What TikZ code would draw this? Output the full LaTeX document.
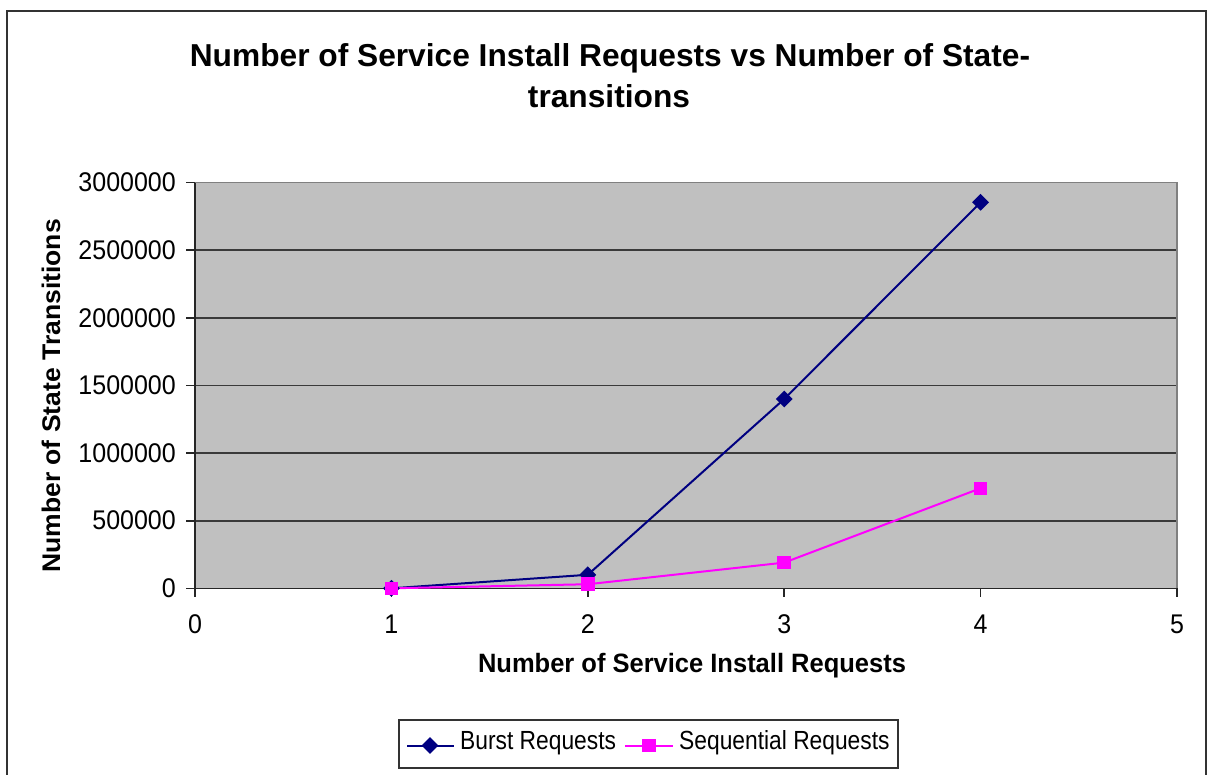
\documentclass[tikz,border=0pt]{standalone}
\usepackage{fontspec}
\setmainfont{Liberation Sans}
\usetikzlibrary{shapes.geometric}
\definecolor{plotgray}{HTML}{C0C0C0}
\definecolor{burstblue}{HTML}{000080}
\definecolor{seqpink}{HTML}{FF00FF}
\definecolor{framegray}{HTML}{333333}
\definecolor{gridgray}{HTML}{3A3A3A}
\definecolor{edgegray}{HTML}{808080}
\pgfdeclarelayer{background}
\pgfdeclarelayer{plotlines}
\pgfsetlayers{background,plotlines,main}
\begin{document}
\begin{tikzpicture}[x=1pt,y=-1pt,
  titlefont/.style={font=\bfseries\fontsize{31.7}{36}\selectfont, inner sep=0pt},
  axistitle/.style={font=\bfseries\fontsize{25.5}{30}\selectfont, inner sep=0pt, yscale=1.04},
  ticklbl/.style={font=\fontsize{25}{30}\selectfont, inner sep=0pt, yscale=1.08},
  legendlbl/.style={font=\fontsize{22.8}{26}\selectfont, inner sep=0pt, anchor=base west, yscale=1.15},
  gridln/.style={gridgray, line width=1.6pt},
  axisln/.style={black!85, line width=1.6pt},
  burstline/.style={burstblue, line width=2pt},
  seqline/.style={seqpink, line width=2pt},
  burstmark/.style={diamond, fill=burstblue, inner sep=0pt, minimum size=17pt},
  seqmark/.style={rectangle, fill=seqpink, inner sep=0pt, minimum size=13.5pt},
]
\useasboundingbox (0,0) rectangle (1209,775);

% outer chart frame (open at the bottom edge)
\draw[framegray, line width=2pt] (7,775) -- (7,11) -- (1205.5,11) -- (1205.5,775);

% chart title
\node[titlefont, anchor=base] (title1) at (610,67) {Number of Service Install Requests vs Number of State-};
\node[titlefont, anchor=base] (title2) at (609,108) {transitions};

\begin{pgfonlayer}{background}
  % plot area and grid
  \fill[plotgray] (195,182.7) rectangle (1177,588.3);
  \foreach \k in {1,...,5} {
    \draw[gridln] (195,{588.3-67.6*\k}) -- (1177,{588.3-67.6*\k});
  }
  \draw[edgegray, line width=1.6pt] (195,182.7) -- (1177,182.7) -- (1177,588.3);
  % axes and ticks
  \draw[axisln] (195,182.7) -- (195,588.3) -- (1177,588.3);
  \foreach \k in {0,...,6} {
    \draw[axisln] (186,{588.3-67.6*\k}) -- (195,{588.3-67.6*\k});
  }
  \foreach \k in {0,...,5} {
    \draw[axisln] ({195+196.4*\k},588.3) -- ({195+196.4*\k},597);
  }
  % legend box
  \draw[framegray, line width=1.4pt, fill=white] (399,720) rectangle (898,768);
\end{pgfonlayer}

% y tick labels
\foreach \v [count=\k from 0] in {0,500000,1000000,1500000,2000000,2500000,3000000} {
  \node[ticklbl, anchor=east] (ylbl\k) at (176,{588.3-67.6*\k}) {\v};
}
% x tick labels
\foreach \k in {0,...,5} {
  \node[ticklbl, anchor=base] (xlbl\k) at ({195+196.4*\k},633) {\k};
}

% axis titles
\node[axistitle, anchor=base] (xtitle) at (692,672) {Number of Service Install Requests};
\node[axistitle, rotate=90] (ytitle) at (51,396) {Number of State Transitions};

% data series (x in requests, y in units of 100000 transitions)
\begin{scope}[shift={(195pt,-588.3pt)}, x=196.4pt, y=13.52pt]
  \node[burstmark] (b1) at (1,0) {};
  \node[burstmark] (b2) at (2,1) {};
  \node[burstmark] (b3) at (3,14) {};
  \node[burstmark] (b4) at (4,28.55) {};
  \node[seqmark] (s1) at (1,0) {};
  \node[seqmark] (s2) at (2,0.3) {};
  \node[seqmark] (s3) at (3,1.9) {};
  \node[seqmark] (s4) at (4,7.4) {};
\end{scope}
\begin{pgfonlayer}{plotlines}
  \draw[burstline] (b1.center) -- (b2.center) -- (b3.center) -- (b4.center);
  \draw[seqline] (s1.center) -- (s2.center) -- (s3.center) -- (s4.center);
\end{pgfonlayer}

% legend entries
\coordinate (lbA) at (407,745.5);
\coordinate (lbB) at (454,745.5);
\coordinate (lsA) at (625,745.5);
\coordinate (lsB) at (673,745.5);
\begin{pgfonlayer}{plotlines}
  \draw[burstline] (lbA) -- (lbB);
  \draw[seqline] (lsA) -- (lsB);
\end{pgfonlayer}
\node[burstmark] (lbm) at (430,745.5) {};
\node[seqmark] (lsm) at (649,745.5) {};
\node[legendlbl] (lbt) at (460,749) {Burst Requests};
\node[legendlbl] (lst) at (679,749) {Sequential Requests};
\end{tikzpicture}
\end{document}
